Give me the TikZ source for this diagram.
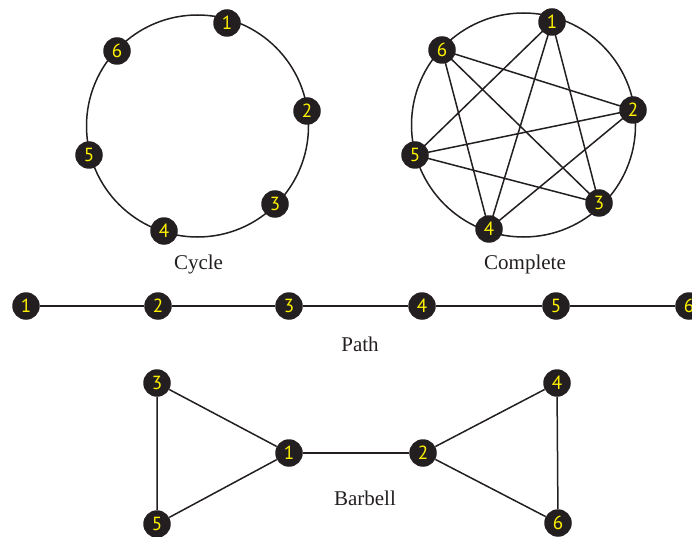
\documentclass[tikz,border=0pt]{standalone}
\usepackage{fontspec}
\setmainfont{Liberation Serif}
\newfontfamily\numfont{PT Sans}
\definecolor{nodeblack}{HTML}{231F20}
\definecolor{numyellow}{HTML}{FFF200}
\begin{document}
\begin{tikzpicture}[x=1pt,y=-1pt,
  vtx/.style={circle,fill=nodeblack,minimum size=27.5pt,inner sep=0pt,
    text=numyellow,font=\numfont\fontsize{19}{19}\selectfont},
  edge/.style={draw=nodeblack,line width=1.5pt},
  caption/.style={anchor=base,font=\fontsize{21}{21}\selectfont,text=nodeblack}]
\useasboundingbox (0,0) rectangle (692,537);
% Cycle
\draw[edge] (197.5,126) circle[radius=111];
\node[vtx] (c1) at (227,23) {1};
\node[vtx] (c2) at (307,111) {2};
\node[vtx] (c3) at (275,204) {3};
\node[vtx] (c4) at (164,231) {4};
\node[vtx] (c5) at (89,155) {5};
\node[vtx] (c6) at (117,51) {6};
\node[caption] (lc) at (198.5,269) {Cycle};
% Complete
\draw[edge] (523.5,125) circle[radius=112];
\coordinate (k1p) at (552,22);
\coordinate (k2p) at (633,110);
\coordinate (k3p) at (599,203);
\coordinate (k4p) at (489,229);
\coordinate (k5p) at (415,155);
\coordinate (k6p) at (442,50);
\foreach \a/\b in {1/3,1/4,1/5,2/4,2/5,2/6,3/5,3/6,4/6}
  \draw[edge] (k\a p) -- (k\b p);
\node[vtx] (k1) at (k1p) {1};
\node[vtx] (k2) at (k2p) {2};
\node[vtx] (k3) at (k3p) {3};
\node[vtx] (k4) at (k4p) {4};
\node[vtx] (k5) at (k5p) {5};
\node[vtx] (k6) at (k6p) {6};
\node[caption] (lk) at (525,269) {Complete};
% Path
\node[vtx] (p1) at (26,306) {1};
\node[vtx] (p2) at (158,306) {2};
\node[vtx] (p3) at (289,306) {3};
\node[vtx] (p4) at (422,306) {4};
\node[vtx] (p5) at (556,306) {5};
\node[vtx] (p6) at (689,306) {6};
\draw[edge] (p1) -- (p2) -- (p3) -- (p4) -- (p5) -- (p6);
\node[caption] (lp) at (360,351) {Path};
% Barbell
\node[vtx] (b3) at (157,383) {3};
\node[vtx] (b5) at (157,524) {5};
\node[vtx] (b1) at (289,453) {1};
\node[vtx] (b2) at (423,453) {2};
\node[vtx] (b4) at (557,383) {4};
\node[vtx] (b6) at (558,523) {6};
\draw[edge] (b3) -- (b5) -- (b1) -- (b3);
\draw[edge] (b1) -- (b2);
\draw[edge] (b4) -- (b2) -- (b6) -- (b4);
\node[caption] (lb) at (365,505) {Barbell};
\end{tikzpicture}
\end{document}
